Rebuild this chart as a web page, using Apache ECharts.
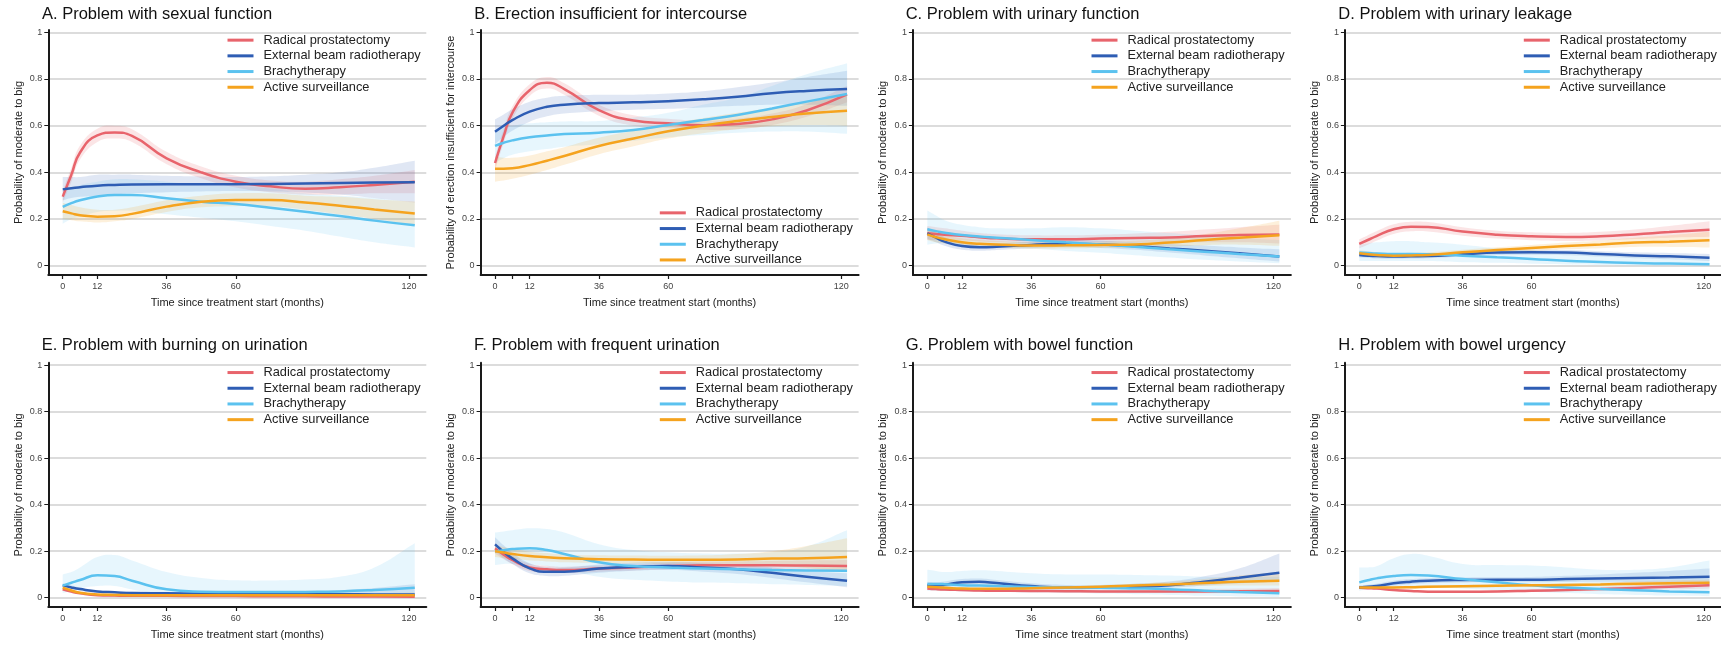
<!DOCTYPE html>
<html>
<head>
<meta charset="utf-8">
<script src="https://cdn.jsdelivr.net/npm/echarts@6/dist/echarts.min.js"></script>
<style>
html,body{margin:0;padding:0;background:#fff;}
#chart{width:1721px;height:646px;}
</style>
</head>
<body>
<div id="chart"></div>
<script>
// ---------- shared axis data ----------
const MONTHS = [0, 3, 6, 12, 18, 24, 36, 48, 60, 72, 84, 96, 108, 122];
const X_TICKS = [0, 6, 12, 36, 60, 120];
const X_LABELS = [0, 12, 36, 60, 120];
const Y_TICKS = [0, 0.2, 0.4, 0.6, 0.8, 1];
const GROUPS = ['Radical prostatectomy', 'External beam radiotherapy', 'Brachytherapy', 'Active surveillance'];
const TITLES = ['A. Problem with sexual function', 'B. Erection insufficient for intercourse',
  'C. Problem with urinary function', 'D. Problem with urinary leakage',
  'E. Problem with burning on urination', 'F. Problem with frequent urination',
  'G. Problem with bowel function', 'H. Problem with bowel urgency'];
const Y_NAMES = ['Probability of moderate to big', 'Probability of erection insufficient for intercourse',
  'Probability of moderate to big', 'Probability of moderate to big',
  'Probability of moderate to big', 'Probability of moderate to big',
  'Probability of moderate to big', 'Probability of moderate to big'];
const X_NAME = 'Time since treatment start (months)';

// ---------- A. sexual function ----------
const A_RP = [0.296, 0.39, 0.485, 0.558, 0.571, 0.556, 0.46, 0.40, 0.36, 0.34, 0.33, 0.336, 0.346, 0.36];
const A_RP_LO = [0.27, 0.36, 0.455, 0.53, 0.545, 0.53, 0.435, 0.375, 0.335, 0.315, 0.305, 0.305, 0.31, 0.31];
const A_RP_HI = [0.32, 0.42, 0.515, 0.587, 0.60, 0.585, 0.488, 0.425, 0.385, 0.365, 0.36, 0.37, 0.385, 0.41];
const A_EB = [0.327, 0.332, 0.336, 0.343, 0.346, 0.348, 0.349, 0.349, 0.349, 0.350, 0.352, 0.354, 0.356, 0.357];
const A_EB_LO = [0.28, 0.29, 0.295, 0.30, 0.305, 0.31, 0.315, 0.318, 0.32, 0.318, 0.314, 0.305, 0.29, 0.27];
const A_EB_HI = [0.38, 0.38, 0.38, 0.39, 0.39, 0.39, 0.385, 0.382, 0.38, 0.383, 0.39, 0.40, 0.42, 0.45];
const A_BT = [0.252, 0.268, 0.28, 0.296, 0.303, 0.303, 0.289, 0.274, 0.264, 0.248, 0.231, 0.213, 0.193, 0.173];
const A_BT_LO = [0.18, 0.20, 0.21, 0.23, 0.235, 0.235, 0.22, 0.205, 0.19, 0.17, 0.15, 0.125, 0.10, 0.078];
const A_BT_HI = [0.32, 0.33, 0.345, 0.36, 0.37, 0.37, 0.36, 0.345, 0.34, 0.33, 0.31, 0.30, 0.29, 0.27];
const A_AS = [0.233, 0.224, 0.216, 0.21, 0.212, 0.222, 0.253, 0.274, 0.281, 0.281, 0.271, 0.257, 0.241, 0.224];
const A_AS_LO = [0.20, 0.195, 0.19, 0.185, 0.19, 0.20, 0.23, 0.25, 0.255, 0.255, 0.24, 0.22, 0.20, 0.175];
const A_AS_HI = [0.27, 0.26, 0.25, 0.24, 0.24, 0.25, 0.28, 0.30, 0.31, 0.31, 0.30, 0.295, 0.285, 0.275];

// ---------- B. erection ----------
const B_RP = [0.44, 0.555, 0.655, 0.752, 0.784, 0.757, 0.667, 0.622, 0.61, 0.602, 0.607, 0.627, 0.665, 0.734];
const B_RP_LO = [0.41, 0.525, 0.628, 0.727, 0.759, 0.732, 0.643, 0.60, 0.59, 0.582, 0.585, 0.603, 0.638, 0.70];
const B_RP_HI = [0.47, 0.585, 0.682, 0.777, 0.809, 0.782, 0.69, 0.645, 0.63, 0.622, 0.63, 0.652, 0.692, 0.77];
const B_EB = [0.574, 0.60, 0.624, 0.66, 0.681, 0.69, 0.697, 0.70, 0.705, 0.713, 0.724, 0.739, 0.749, 0.757];
const B_EB_LO = [0.52, 0.552, 0.578, 0.617, 0.64, 0.652, 0.662, 0.668, 0.672, 0.678, 0.685, 0.69, 0.69, 0.685];
const B_EB_HI = [0.627, 0.648, 0.67, 0.703, 0.72, 0.728, 0.732, 0.733, 0.738, 0.748, 0.765, 0.785, 0.808, 0.835];
const B_BT = [0.513, 0.527, 0.537, 0.55, 0.558, 0.564, 0.57, 0.581, 0.603, 0.624, 0.646, 0.674, 0.703, 0.736];
const B_BT_LO = [0.44, 0.46, 0.475, 0.49, 0.50, 0.51, 0.52, 0.535, 0.55, 0.56, 0.57, 0.575, 0.575, 0.565];
const B_BT_HI = [0.585, 0.595, 0.60, 0.61, 0.615, 0.618, 0.62, 0.635, 0.655, 0.69, 0.72, 0.77, 0.82, 0.867];
const B_AS = [0.415, 0.415, 0.417, 0.431, 0.45, 0.47, 0.513, 0.545, 0.576, 0.60, 0.62, 0.637, 0.652, 0.664];
const B_AS_LO = [0.36, 0.365, 0.372, 0.39, 0.41, 0.432, 0.478, 0.512, 0.545, 0.568, 0.585, 0.597, 0.603, 0.60];
const B_AS_HI = [0.467, 0.463, 0.462, 0.472, 0.49, 0.508, 0.548, 0.578, 0.607, 0.632, 0.655, 0.677, 0.70, 0.73];

// ---------- C. urinary function ----------
const C_RP = [0.139, 0.136, 0.133, 0.128, 0.122, 0.117, 0.113, 0.113, 0.116, 0.119, 0.121, 0.127, 0.131, 0.134];
const C_RP_LO = [0.11, 0.11, 0.11, 0.108, 0.104, 0.10, 0.097, 0.097, 0.10, 0.10, 0.10, 0.10, 0.10, 0.095];
const C_RP_HI = [0.17, 0.165, 0.16, 0.15, 0.14, 0.135, 0.13, 0.13, 0.133, 0.138, 0.145, 0.155, 0.165, 0.175];
const C_EB = [0.139, 0.12, 0.103, 0.084, 0.079, 0.081, 0.089, 0.094, 0.091, 0.084, 0.074, 0.064, 0.053, 0.039];
const C_EB_LO = [0.115, 0.10, 0.085, 0.068, 0.064, 0.067, 0.075, 0.079, 0.076, 0.068, 0.056, 0.044, 0.032, 0.018];
const C_EB_HI = [0.165, 0.142, 0.122, 0.10, 0.095, 0.096, 0.104, 0.11, 0.107, 0.10, 0.093, 0.086, 0.078, 0.07];
const C_BT = [0.156, 0.148, 0.141, 0.131, 0.125, 0.12, 0.11, 0.10, 0.091, 0.081, 0.07, 0.06, 0.05, 0.039];
const C_BT_LO = [0.09, 0.095, 0.095, 0.09, 0.085, 0.08, 0.072, 0.063, 0.055, 0.045, 0.035, 0.025, 0.018, 0.01];
const C_BT_HI = [0.236, 0.215, 0.195, 0.175, 0.165, 0.16, 0.16, 0.165, 0.16, 0.15, 0.14, 0.13, 0.12, 0.11];
const C_AS = [0.134, 0.122, 0.113, 0.10, 0.094, 0.091, 0.086, 0.087, 0.089, 0.091, 0.099, 0.11, 0.12, 0.13];
const C_AS_LO = [0.11, 0.10, 0.095, 0.085, 0.08, 0.077, 0.073, 0.074, 0.076, 0.077, 0.082, 0.088, 0.09, 0.085];
const C_AS_HI = [0.16, 0.145, 0.133, 0.117, 0.11, 0.106, 0.10, 0.101, 0.103, 0.107, 0.118, 0.135, 0.16, 0.193];

// ---------- D. urinary leakage ----------
const D_RP = [0.093, 0.11, 0.127, 0.156, 0.167, 0.166, 0.146, 0.133, 0.126, 0.123, 0.126, 0.134, 0.144, 0.154];
const D_RP_LO = [0.075, 0.09, 0.107, 0.136, 0.147, 0.146, 0.128, 0.116, 0.109, 0.106, 0.108, 0.114, 0.12, 0.124];
const D_RP_HI = [0.112, 0.13, 0.147, 0.177, 0.188, 0.187, 0.165, 0.15, 0.143, 0.14, 0.145, 0.155, 0.17, 0.19];
const D_EB = [0.046, 0.043, 0.041, 0.039, 0.04, 0.041, 0.049, 0.056, 0.057, 0.056, 0.05, 0.044, 0.04, 0.034];
const D_EB_LO = [0.035, 0.033, 0.031, 0.03, 0.031, 0.032, 0.039, 0.046, 0.047, 0.045, 0.039, 0.032, 0.027, 0.02];
const D_EB_HI = [0.058, 0.054, 0.052, 0.05, 0.05, 0.051, 0.059, 0.066, 0.068, 0.067, 0.062, 0.057, 0.054, 0.05];
const D_BT = [0.056, 0.054, 0.052, 0.05, 0.05, 0.049, 0.043, 0.036, 0.029, 0.021, 0.016, 0.011, 0.009, 0.006];
const D_BT_LO = [0.02, 0.02, 0.02, 0.02, 0.02, 0.02, 0.015, 0.012, 0.008, 0.005, 0.003, 0.002, 0.001, 0.0];
const D_BT_HI = [0.09, 0.095, 0.10, 0.105, 0.105, 0.10, 0.09, 0.075, 0.065, 0.055, 0.045, 0.038, 0.032, 0.03];
const D_AS = [0.053, 0.049, 0.046, 0.043, 0.044, 0.046, 0.057, 0.067, 0.076, 0.084, 0.091, 0.099, 0.103, 0.109];
const D_AS_LO = [0.04, 0.037, 0.035, 0.033, 0.034, 0.036, 0.046, 0.055, 0.063, 0.07, 0.075, 0.08, 0.08, 0.078];
const D_AS_HI = [0.066, 0.062, 0.058, 0.054, 0.055, 0.057, 0.068, 0.079, 0.089, 0.099, 0.108, 0.12, 0.13, 0.145];

// ---------- E. burning on urination ----------
const E_RP = [0.036, 0.026, 0.019, 0.011, 0.009, 0.008, 0.008, 0.007, 0.007, 0.006, 0.006, 0.005, 0.005, 0.004];
const E_RP_LO = [0.03, 0.021, 0.015, 0.008, 0.006, 0.005, 0.005, 0.004, 0.004, 0.003, 0.003, 0.002, 0.002, 0.001];
const E_RP_HI = [0.043, 0.032, 0.024, 0.015, 0.012, 0.011, 0.011, 0.01, 0.01, 0.01, 0.01, 0.01, 0.01, 0.01];
const E_EB = [0.053, 0.044, 0.037, 0.027, 0.023, 0.02, 0.019, 0.018, 0.017, 0.016, 0.015, 0.015, 0.014, 0.014];
const E_EB_LO = [0.045, 0.037, 0.03, 0.021, 0.018, 0.015, 0.014, 0.013, 0.012, 0.011, 0.01, 0.009, 0.008, 0.007];
const E_EB_HI = [0.062, 0.052, 0.044, 0.033, 0.029, 0.026, 0.025, 0.024, 0.023, 0.023, 0.026, 0.032, 0.042, 0.058];
const E_BT = [0.052, 0.064, 0.076, 0.096, 0.093, 0.073, 0.036, 0.026, 0.024, 0.024, 0.025, 0.027, 0.033, 0.043];
const E_BT_LO = [0.02, 0.03, 0.04, 0.05, 0.05, 0.035, 0.012, 0.007, 0.005, 0.005, 0.005, 0.005, 0.007, 0.01];
const E_BT_HI = [0.10, 0.11, 0.13, 0.175, 0.183, 0.16, 0.11, 0.085, 0.075, 0.074, 0.078, 0.09, 0.13, 0.234];
const E_AS = [0.043, 0.031, 0.021, 0.014, 0.012, 0.011, 0.011, 0.011, 0.011, 0.011, 0.011, 0.011, 0.011, 0.011];
const E_AS_LO = [0.036, 0.025, 0.016, 0.01, 0.008, 0.007, 0.007, 0.007, 0.007, 0.007, 0.007, 0.006, 0.005, 0.004];
const E_AS_HI = [0.05, 0.037, 0.026, 0.018, 0.016, 0.015, 0.015, 0.015, 0.015, 0.015, 0.016, 0.017, 0.019, 0.022];

// ---------- F. frequent urination ----------
const F_RP = [0.212, 0.185, 0.162, 0.13, 0.122, 0.119, 0.125, 0.13, 0.136, 0.139, 0.139, 0.139, 0.138, 0.136];
const F_RP_LO = [0.19, 0.165, 0.145, 0.115, 0.108, 0.106, 0.112, 0.117, 0.122, 0.124, 0.123, 0.12, 0.117, 0.112];
const F_RP_HI = [0.235, 0.205, 0.18, 0.146, 0.137, 0.133, 0.138, 0.143, 0.15, 0.154, 0.156, 0.158, 0.16, 0.162];
const F_EB = [0.229, 0.197, 0.169, 0.126, 0.112, 0.112, 0.125, 0.133, 0.136, 0.13, 0.122, 0.107, 0.09, 0.073];
const F_EB_LO = [0.20, 0.17, 0.145, 0.105, 0.093, 0.094, 0.107, 0.116, 0.119, 0.112, 0.102, 0.085, 0.066, 0.045];
const F_EB_HI = [0.26, 0.225, 0.193, 0.148, 0.132, 0.13, 0.143, 0.15, 0.153, 0.148, 0.142, 0.13, 0.115, 0.105];
const F_BT = [0.198, 0.204, 0.209, 0.213, 0.205, 0.188, 0.152, 0.136, 0.13, 0.125, 0.122, 0.119, 0.117, 0.116];
const F_BT_LO = [0.14, 0.145, 0.145, 0.14, 0.135, 0.12, 0.09, 0.077, 0.07, 0.065, 0.062, 0.058, 0.055, 0.05];
const F_BT_HI = [0.28, 0.285, 0.29, 0.298, 0.295, 0.28, 0.23, 0.205, 0.195, 0.19, 0.19, 0.195, 0.22, 0.29];
const F_AS = [0.20, 0.194, 0.188, 0.179, 0.174, 0.169, 0.165, 0.164, 0.163, 0.163, 0.164, 0.168, 0.17, 0.175];
const F_AS_LO = [0.175, 0.17, 0.166, 0.16, 0.156, 0.152, 0.148, 0.147, 0.146, 0.145, 0.142, 0.137, 0.128, 0.11];
const F_AS_HI = [0.225, 0.218, 0.21, 0.198, 0.192, 0.186, 0.182, 0.181, 0.18, 0.182, 0.188, 0.20, 0.222, 0.255];

// ---------- G. bowel function ----------
const G_RP = [0.04, 0.037, 0.035, 0.033, 0.031, 0.03, 0.029, 0.028, 0.027, 0.027, 0.027, 0.027, 0.028, 0.029];
const G_RP_LO = [0.033, 0.031, 0.029, 0.027, 0.025, 0.024, 0.023, 0.022, 0.021, 0.021, 0.02, 0.019, 0.019, 0.018];
const G_RP_HI = [0.048, 0.044, 0.041, 0.039, 0.037, 0.036, 0.035, 0.034, 0.033, 0.034, 0.035, 0.037, 0.039, 0.042];
const G_EB = [0.054, 0.053, 0.056, 0.066, 0.068, 0.063, 0.05, 0.044, 0.044, 0.047, 0.054, 0.069, 0.086, 0.107];
const G_EB_LO = [0.042, 0.042, 0.045, 0.054, 0.056, 0.052, 0.04, 0.035, 0.035, 0.037, 0.042, 0.052, 0.062, 0.07];
const G_EB_HI = [0.068, 0.066, 0.07, 0.08, 0.082, 0.076, 0.062, 0.055, 0.055, 0.06, 0.07, 0.092, 0.125, 0.19];
const G_BT = [0.059, 0.059, 0.058, 0.054, 0.052, 0.05, 0.046, 0.044, 0.043, 0.04, 0.036, 0.03, 0.024, 0.019];
const G_BT_LO = [0.03, 0.03, 0.03, 0.028, 0.027, 0.026, 0.022, 0.02, 0.018, 0.015, 0.012, 0.008, 0.005, 0.003];
const G_BT_HI = [0.12, 0.115, 0.11, 0.115, 0.118, 0.115, 0.105, 0.10, 0.10, 0.098, 0.095, 0.09, 0.088, 0.09];
const G_AS = [0.047, 0.045, 0.043, 0.039, 0.038, 0.038, 0.041, 0.044, 0.047, 0.052, 0.057, 0.063, 0.069, 0.073];
const G_AS_LO = [0.04, 0.038, 0.036, 0.033, 0.032, 0.032, 0.035, 0.038, 0.04, 0.044, 0.047, 0.05, 0.052, 0.052];
const G_AS_HI = [0.055, 0.052, 0.05, 0.045, 0.044, 0.044, 0.047, 0.05, 0.054, 0.06, 0.068, 0.08, 0.095, 0.11];

// ---------- H. bowel urgency ----------
const H_RP = [0.043, 0.041, 0.039, 0.033, 0.029, 0.026, 0.026, 0.027, 0.03, 0.033, 0.037, 0.042, 0.047, 0.053];
const H_RP_LO = [0.037, 0.035, 0.033, 0.028, 0.024, 0.021, 0.021, 0.022, 0.024, 0.027, 0.03, 0.033, 0.036, 0.04];
const H_RP_HI = [0.05, 0.048, 0.045, 0.039, 0.034, 0.031, 0.031, 0.032, 0.036, 0.04, 0.045, 0.052, 0.06, 0.068];
const H_EB = [0.044, 0.047, 0.05, 0.062, 0.069, 0.073, 0.076, 0.077, 0.077, 0.08, 0.083, 0.085, 0.087, 0.09];
const H_EB_LO = [0.036, 0.038, 0.041, 0.051, 0.058, 0.062, 0.065, 0.066, 0.066, 0.067, 0.068, 0.067, 0.066, 0.065];
const H_EB_HI = [0.053, 0.056, 0.06, 0.073, 0.08, 0.084, 0.087, 0.088, 0.089, 0.094, 0.10, 0.107, 0.115, 0.125];
const H_BT = [0.066, 0.075, 0.083, 0.093, 0.097, 0.095, 0.08, 0.066, 0.053, 0.044, 0.037, 0.032, 0.027, 0.023];
const H_BT_LO = [0.03, 0.035, 0.04, 0.045, 0.045, 0.045, 0.04, 0.032, 0.025, 0.02, 0.015, 0.012, 0.009, 0.006];
const H_BT_HI = [0.13, 0.13, 0.135, 0.17, 0.188, 0.18, 0.145, 0.14, 0.138, 0.13, 0.12, 0.12, 0.13, 0.16];
const H_AS = [0.044, 0.044, 0.044, 0.044, 0.045, 0.047, 0.049, 0.051, 0.053, 0.055, 0.057, 0.06, 0.062, 0.064];
const H_AS_LO = [0.038, 0.038, 0.038, 0.038, 0.039, 0.041, 0.043, 0.045, 0.047, 0.048, 0.049, 0.05, 0.051, 0.051];
const H_AS_HI = [0.05, 0.05, 0.05, 0.05, 0.051, 0.053, 0.055, 0.057, 0.059, 0.062, 0.065, 0.07, 0.074, 0.078];

// table built from the arrays above: [panel][group] = [mid, lo, hi]
const TABLE = [
  [[A_RP, A_RP_LO, A_RP_HI], [A_EB, A_EB_LO, A_EB_HI], [A_BT, A_BT_LO, A_BT_HI], [A_AS, A_AS_LO, A_AS_HI]],
  [[B_RP, B_RP_LO, B_RP_HI], [B_EB, B_EB_LO, B_EB_HI], [B_BT, B_BT_LO, B_BT_HI], [B_AS, B_AS_LO, B_AS_HI]],
  [[C_RP, C_RP_LO, C_RP_HI], [C_EB, C_EB_LO, C_EB_HI], [C_BT, C_BT_LO, C_BT_HI], [C_AS, C_AS_LO, C_AS_HI]],
  [[D_RP, D_RP_LO, D_RP_HI], [D_EB, D_EB_LO, D_EB_HI], [D_BT, D_BT_LO, D_BT_HI], [D_AS, D_AS_LO, D_AS_HI]],
  [[E_RP, E_RP_LO, E_RP_HI], [E_EB, E_EB_LO, E_EB_HI], [E_BT, E_BT_LO, E_BT_HI], [E_AS, E_AS_LO, E_AS_HI]],
  [[F_RP, F_RP_LO, F_RP_HI], [F_EB, F_EB_LO, F_EB_HI], [F_BT, F_BT_LO, F_BT_HI], [F_AS, F_AS_LO, F_AS_HI]],
  [[G_RP, G_RP_LO, G_RP_HI], [G_EB, G_EB_LO, G_EB_HI], [G_BT, G_BT_LO, G_BT_HI], [G_AS, G_AS_LO, G_AS_HI]],
  [[H_RP, H_RP_LO, H_RP_HI], [H_EB, H_EB_LO, H_EB_HI], [H_BT, H_BT_LO, H_BT_HI], [H_AS, H_AS_LO, H_AS_HI]]
];

// ---------- styling / layout ----------
const FONT = '"Liberation Sans", Arial, Helvetica, sans-serif';
const COLORS = ['#E8646C', '#2E5DB4', '#5BC2EF', '#F5A31E'];
const BAND_COLORS = ['rgba(232,100,108,0.17)', 'rgba(46,93,180,0.15)', 'rgba(91,194,239,0.15)', 'rgba(245,163,30,0.16)'];
const COL_LEFT = [48.3, 480.6, 912.9, 1344.9];
const ROW_TOP = [30, 362.7];
const ROW_H = [245, 244.3];
const GRID_W = 378;
const TITLE_LEFT = [[42, 474.3, 905.7, 1338.3], [41.7, 474, 905.7, 1338.3]];
const TITLE_TOP = [5.5, 336.5];
const LEGEND_LEFT = [226, 658.3, 1090, 1522.3];
const LEGEND_TOP = [32.3, 364.7];

function bandRenderer(color) {
  return function (params, api) {
    if (params.dataIndexInside !== 0) return null;
    const n = params.dataInsideLength;
    const top = [], bot = [];
    for (let j = 0; j < n; j++) {
      top.push(api.coord([api.value(0, j), api.value(2, j)]));
      bot.push(api.coord([api.value(0, j), api.value(1, j)]));
    }
    // corners are repeated so the smoothed outline keeps square ends
    const pts = [top[0]].concat(top, [top[n - 1], bot[n - 1]], bot.slice().reverse(), [bot[0]]);
    return {
      type: 'polygon', silent: true,
      shape: { points: pts, smooth: 0.45 },
      style: { fill: color, stroke: null }
    };
  };
}

const grids = [], xAxes = [], yAxes = [], series = [], titles = [], legends = [];
for (let i = 0; i < 8; i++) {
  const col = i % 4, row = Math.floor(i / 4);
  grids.push({ left: COL_LEFT[col], top: ROW_TOP[row], width: GRID_W, height: ROW_H[row], containLabel: false });
  xAxes.push({
    gridIndex: i, type: 'value', min: -5, max: 126,
    axisLine: { show: true, onZero: false, lineStyle: { color: '#1a1a1a', width: 2 } },
    axisTick: { show: true, customValues: X_TICKS, length: 4, lineStyle: { color: '#1a1a1a', width: 1.2 } },
    axisLabel: { customValues: X_LABELS, fontSize: 9, color: '#444', margin: 7, fontFamily: FONT },
    splitLine: { show: false },
    name: X_NAME, nameLocation: 'middle', nameGap: 22,
    nameTextStyle: { fontSize: 11, color: '#222', fontFamily: FONT }
  });
  yAxes.push({
    gridIndex: i, type: 'value', min: -0.04, max: 1.01,
    axisLine: { show: true, onZero: false, lineStyle: { color: '#1a1a1a', width: 2 } },
    axisTick: { show: true, customValues: Y_TICKS, length: 4, lineStyle: { color: '#1a1a1a', width: 1 } },
    axisLabel: { customValues: Y_TICKS, fontSize: 9, color: '#444', margin: 6, fontFamily: FONT },
    splitLine: { show: true, lineStyle: { color: '#d0d0d0', width: 1.5 } },
    name: Y_NAMES[i], nameLocation: 'middle', nameGap: 24,
    nameTextStyle: { fontSize: 11, color: '#222', fontFamily: FONT }
  });
  titles.push({
    text: TITLES[i], left: TITLE_LEFT[row][col], top: TITLE_TOP[row], padding: 0,
    textStyle: { fontSize: 16.5, fontWeight: 'normal', color: '#111', fontFamily: FONT }
  });
  legends.push({
    data: GROUPS, orient: 'vertical', left: LEGEND_LEFT[col],
    top: (i === 1) ? 205 : LEGEND_TOP[row],
    itemWidth: 26, itemHeight: 14, itemGap: 0, padding: 0, selectedMode: false,
    itemStyle: { opacity: 0 },
    lineStyle: { width: 3 },
    textStyle: { fontSize: 12.8, color: '#222', fontFamily: FONT, lineHeight: 15.7, padding: [0, 0, 0, 5] }
  });
  const groups = TABLE[i];
  groups.forEach((g, gi) => {
    series.push({
      type: 'custom', name: GROUPS[gi] + ' CI', xAxisIndex: i, yAxisIndex: i,
      data: MONTHS.map((m, k) => [m, g[1][k], g[2][k]]),
      encode: { x: 0, y: [1, 2] }, clip: true, silent: true, z: 1,
      renderItem: bandRenderer(BAND_COLORS[gi])
    });
  });
  groups.forEach((g, gi) => {
    series.push({
      type: 'line', name: GROUPS[gi], xAxisIndex: i, yAxisIndex: i,
      data: MONTHS.map((m, k) => [m, g[0][k]]), smooth: 0.5, symbol: 'none', silent: true,
      lineStyle: { color: COLORS[gi], width: 2.5 }, itemStyle: { color: COLORS[gi] }, z: 3
    });
  });
}

const chart = echarts.init(document.getElementById('chart'), null, { renderer: 'canvas' });
chart.setOption({
  animation: false,
  backgroundColor: '#ffffff',
  title: titles, legend: legends, grid: grids, xAxis: xAxes, yAxis: yAxes, series: series
});
</script>
</body>
</html>
